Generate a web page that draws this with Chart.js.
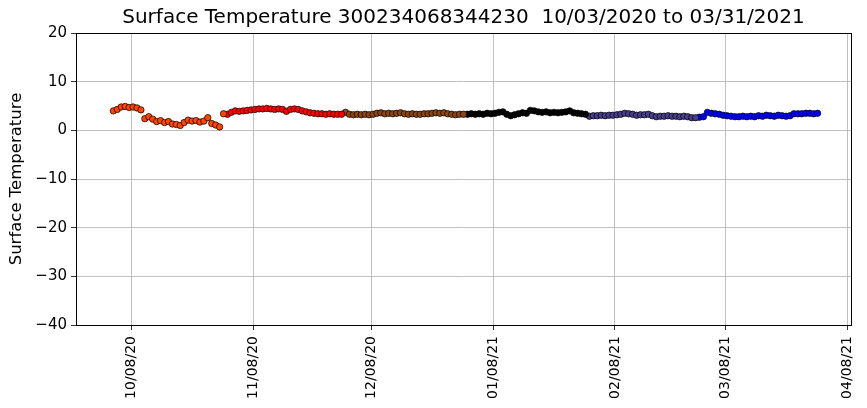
<!DOCTYPE html>
<html>
<head>
<meta charset="utf-8">
<style>
  html, body { margin: 0; padding: 0; background: #fff; }
  #wrap { width: 867px; height: 408px; }
</style>
<script src="https://cdn.jsdelivr.net/npm/chart.js@4"></script>
</head>
<body>
<div id="wrap"><canvas id="temp-chart" width="867" height="408"></canvas></div>
<script>
/* ── Data: daily surface temperature, one array per month ── */
const OCT_VALUES = [4.0, 4.3, 4.8, 4.9, 4.7, 4.8, 4.6, 4.2, 2.4, 2.8, 2.3, 1.8, 2.0, 1.6, 1.8,
                    1.3, 1.2, 1.0, 1.6, 2.1, 1.9, 2.0, 1.7, 1.9, 2.6, 1.4, 1.1, 0.7, 3.4];
const NOV_VALUES = [3.3, 3.7, 4.0, 3.9, 4.0, 4.1, 4.2, 4.3, 4.4, 4.4, 4.5, 4.4, 4.3, 4.4, 4.3,
                    3.9, 4.3, 4.4, 4.3, 4.0, 3.8, 3.6, 3.5, 3.4, 3.4, 3.3, 3.4, 3.3, 3.3, 3.3];
const DEC_VALUES = [3.7, 3.3, 3.2, 3.3, 3.2, 3.3, 3.2, 3.3, 3.5, 3.6, 3.4, 3.5, 3.4, 3.5, 3.6,
                    3.4, 3.3, 3.4, 3.3, 3.3, 3.4, 3.4, 3.5, 3.6, 3.5, 3.6, 3.4, 3.3, 3.2, 3.3, 3.3];
const JAN_VALUES = [3.3, 3.4, 3.3, 3.4, 3.3, 3.5, 3.4, 3.5, 3.7, 3.8, 3.3, 3.0, 3.2, 3.4, 3.6,
                    3.5, 4.1, 4.0, 3.8, 3.7, 3.8, 3.6, 3.7, 3.6, 3.7, 3.8, 4.0, 3.6, 3.5, 3.4, 3.3];
const FEB_VALUES = [2.9, 3.0, 3.0, 3.1, 3.0, 3.1, 3.1, 3.2, 3.3, 3.5, 3.4, 3.3, 3.1, 3.2, 3.2,
                    3.3, 3.0, 2.8, 2.9, 2.9, 3.0, 2.9, 2.9, 2.8, 2.9, 2.8, 2.6, 2.6];
const MAR_VALUES = [2.7, 2.8, 3.7, 3.5, 3.4, 3.3, 3.1, 3.0, 2.9, 2.8, 2.8, 2.9, 2.8, 2.9, 2.8,
                    3.0, 2.9, 3.1, 3.0, 2.9, 3.1, 3.0, 2.9, 3.0, 3.4, 3.4, 3.4, 3.5, 3.5, 3.4, 3.5];

/* month: [year, monthIndex, first day, values, colour] */
const MONTHS = [
  [2020, 9, 3, OCT_VALUES, '#ff4500'],
  [2020, 10, 1, NOV_VALUES, '#ff0000'],
  [2020, 11, 1, DEC_VALUES, '#8b4513'],
  [2021, 0, 1, JAN_VALUES, '#000000'],
  [2021, 1, 1, FEB_VALUES, '#483d8b'],
  [2021, 2, 1, MAR_VALUES, '#0000ff'],
];

const TICK_DATES  = [[2020, 9, 8], [2020, 10, 8], [2020, 11, 8], [2021, 0, 8],
                     [2021, 1, 8], [2021, 2, 8], [2021, 3, 8]].map(d => Date.UTC(d[0], d[1], d[2]));
const TICK_LABELS = ['10/08/20', '11/08/20', '12/08/20', '01/08/21', '02/08/21', '03/08/21', '04/08/21'];
const Y_TICKS     = [20, 10, 0, -10, -20, -30, -40];

const DAY = 86400000;
const X_MIN = Date.UTC(2020, 8, 24);
const X_MAX = Date.UTC(2021, 3, 9);

/* ── Build datasets ── */
const datasets = MONTHS.map(([y, m, d0, vals, col]) => ({
  data: vals.map((v, i) => ({ x: Date.UTC(y, m, d0 + i) + DAY / 2, y: v })),
  backgroundColor: col,
  borderColor: '#000',
  borderWidth: 0.7,
  pointRadius: 3.2,
  pointHoverRadius: 3.2,
}));

/* ── Black frame round the plot ── */
const framePlugin = {
  id: 'frame',
  afterDraw(chart) {
    const { ctx, chartArea: a } = chart;
    ctx.save();
    ctx.strokeStyle = '#000';
    ctx.lineWidth = 1;
    ctx.strokeRect(a.left + 0.5, a.top + 0.5, a.right - a.left, a.bottom - a.top);
    ctx.restore();
  },
};

const FONT = 'DejaVu Sans';

new Chart(document.getElementById('temp-chart'), {
  type: 'scatter',
  data: { datasets },
  plugins: [framePlugin],
  options: {
    responsive: false,
    animation: false,
    layout: { padding: { left: 0, right: 16, top: 0, bottom: 0 } },
    plugins: {
      legend: { display: false },
      tooltip: { enabled: false },
      title: {
        display: true,
        fullSize: false,
        text: 'Surface Temperature 300234068344230  10/03/2020 to 03/31/2021',
        color: '#000',
        font: { family: FONT, size: 20, weight: 'normal' },
        padding: { top: 6, bottom: 3 },
      },
    },
    scales: {
      x: {
        type: 'linear',
        min: X_MIN,
        max: X_MAX,
        afterBuildTicks: s => { s.ticks = TICK_DATES.map(v => ({ value: v })); },
        afterFit: s => { s.height = 83; s.paddingLeft = 0; s.paddingRight = 0; },
        grid: { color: '#b0b0b0', lineWidth: 0.8, tickColor: '#000', tickLength: 5 },
        border: { display: false },
        ticks: {
          color: '#000',
          font: { family: FONT, size: 14 },
          minRotation: 90,
          maxRotation: 90,
          padding: 6,
          callback: (v, i) => TICK_LABELS[i],
        },
      },
      y: {
        min: -40,
        max: 20,
        afterBuildTicks: s => { s.ticks = Y_TICKS.map(v => ({ value: v })); },
        afterFit: s => { s.width = 76; },
        grid: { color: '#b0b0b0', lineWidth: 0.8, tickColor: '#000', tickLength: 5 },
        border: { display: false },
        title: {
          display: true,
          text: 'Surface Temperature',
          color: '#000',
          font: { family: FONT, size: 16.5 },
          padding: { top: 7, bottom: 0 },
        },
        ticks: {
          color: '#000',
          font: { family: FONT, size: 15 },
          padding: 4,
          callback: v => String(v).replace('-', '\u2212'),
        },
      },
    },
  },
});
</script>
</body>
</html>
